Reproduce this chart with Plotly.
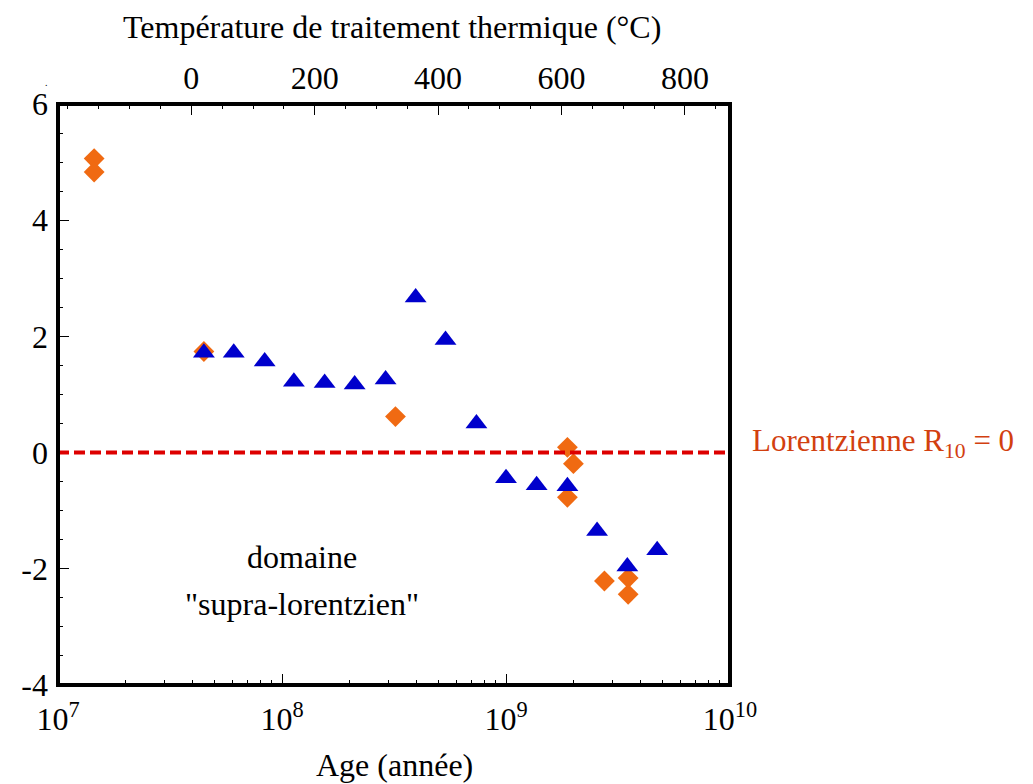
import plotly.graph_objects as go

# Orange diamonds (age in years, value)
orange_age = [1.45e7, 1.45e7, 4.48e7, 3.21e8, 1.88e9, 2.0e9, 1.88e9, 2.75e9, 3.51e9, 3.51e9]
orange_val = [5.06, 4.83, 1.74, 0.62, 0.09, -0.19, -0.77, -2.21, -2.16, -2.44]

# Blue triangles
blue_age = [4.48e7, 6.09e7, 8.37e7, 1.13e8, 1.55e8, 2.11e8, 2.90e8, 3.95e8, 5.37e8, 7.38e8,
            1.0e9, 1.37e9, 1.88e9, 2.55e9, 3.48e9, 4.73e9]
blue_val = [1.72, 1.72, 1.57, 1.22, 1.20, 1.17, 1.26, 2.67, 1.94, 0.50,
            -0.44, -0.56, -0.58, -1.35, -1.96, -1.68]

x_major = [1e7, 1e8, 1e9, 1e10]
x_major_text = ["10<sup>7</sup>", "10<sup>8</sup>", "10<sup>9</sup>", "10<sup>10</sup>"]
temp_ticks = [0, 200, 400, 600, 800]
y_ticks = [-4, -2, 0, 2, 4, 6]
y_tick_text = ["-4", "-2", "0", "2", "4", "6"]

FONT = "Liberation Serif"
FS = 32

fig = go.Figure()
fig.add_trace(go.Scatter(x=orange_age, y=orange_val, mode="markers",
                         marker=dict(symbol="diamond", size=16, color="#F06A12", line=dict(width=0)),
                         showlegend=False))
fig.add_trace(go.Scatter(x=blue_age, y=blue_val, mode="markers",
                         marker=dict(symbol="triangle-up", size=19, color="#0000CC", line=dict(width=0)),
                         showlegend=False))
# invisible trace to activate top axis
fig.add_trace(go.Scatter(x=[0, 800], y=[None, None], xaxis="x2", mode="markers",
                         showlegend=False, hoverinfo="skip"))

fig.add_shape(type="line", xref="paper", yref="y", x0=0, x1=1, y0=0, y1=0,
              line=dict(color="#DD0000", width=4, dash="11px,5px"))
fig.add_shape(type="rect", xref="paper", yref="paper", x0=0, x1=1, y0=0, y1=1,
              line=dict(color="black", width=4), fillcolor="rgba(0,0,0,0)")

tick_common = dict(ticks="inside", ticklen=11, tickwidth=1, tickcolor="black",
                   showline=False, showgrid=False, zeroline=False, tickfont=dict(size=FS))
minor_common = dict(ticks="inside", ticklen=5, tickwidth=1, tickcolor="black", showgrid=False)

fig.update_layout(
    width=1033, height=784,
    margin=dict(l=58, r=303, t=104, b=99),
    paper_bgcolor="white", plot_bgcolor="white",
    font=dict(family=FONT, size=FS, color="black"),
    xaxis=dict(type="log", range=[7, 10], tickmode="array", tickvals=x_major, ticktext=x_major_text,
               minor=dict(dtick="D1", **minor_common), ticklabelstandoff=12, **tick_common),
    xaxis2=dict(overlaying="x", side="top", range=[-216, 873], tickmode="array", tickvals=temp_ticks,
                minor=dict(dtick=50, **minor_common), ticklabelstandoff=8, **tick_common),
    yaxis=dict(range=[-4, 6], tickmode="array", tickvals=y_ticks, ticktext=y_tick_text,
               minor=dict(dtick=0.5, **minor_common), ticklabelstandoff=9, **tick_common),
)

fig.add_annotation(text="Age (année)", xref="paper", yref="paper", x=0.5, y=-0.138,
                   xanchor="center", yanchor="middle", showarrow=False, font=dict(size=FS))
fig.add_annotation(text="Température de traitement thermique (°C)", xref="paper", yref="paper",
                   x=0.497, y=1.1325, xanchor="center", yanchor="middle", showarrow=False, font=dict(size=FS))
fig.add_annotation(text="Lorentzienne R<sub>10</sub> = 0", xref="paper", yref="y", x=1.03, y=0.165,
                   xanchor="left", yanchor="middle", showarrow=False, font=dict(size=31, color="#D2400F"))
fig.add_annotation(text="domaine", xref="paper", yref="y", x=0.363, y=-1.797,
                   xanchor="center", yanchor="middle", showarrow=False, font=dict(size=FS))
fig.add_annotation(text="\"supra-lorentzien\"", xref="paper", yref="y", x=0.363, y=-2.606,
                   xanchor="center", yanchor="middle", showarrow=False, font=dict(size=FS))
fig.add_annotation(text=".", xref="paper", yref="paper", x=-0.023, y=1.05, showarrow=False,
                   font=dict(size=10))

fig.write_html("out.html", post_script="document.body.style.margin='0';",
               config={"displayModeBar": False})
